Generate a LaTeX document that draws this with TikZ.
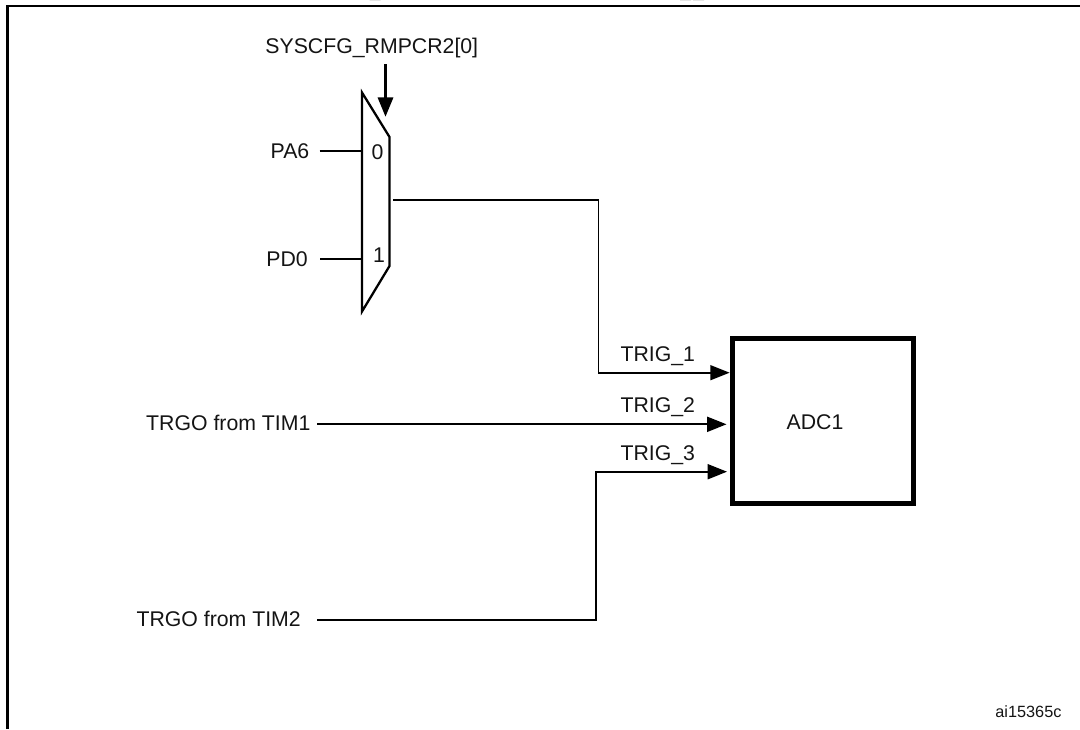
\documentclass[tikz,border=0pt]{standalone}
\usepackage{fontspec}
\setmainfont{Liberation Sans}
\usetikzlibrary{arrows.meta}
\tikzset{
  px/.style={x=0.75pt,y=-0.75pt},
  lbl/.style={inner sep=0pt,font=\fontsize{15.95pt}{18pt}\selectfont,text=black!92},
  smalllbl/.style={inner sep=0pt,font=\fontsize{12.2pt}{14pt}\selectfont,text=black!92},
  wire/.style={line width=1.25pt,draw=black},
  arr/.style={wire,-{Triangle[length=14.5pt,width=11.25pt]}},
  frameline/.style={line width=1.6pt,draw=black},
  muxshape/.style={line width=1.7pt,draw=black,line join=miter},
  adcbox/.style={draw=black,line width=3.7pt,minimum width=135.75pt,minimum height=124.1pt,inner sep=0pt},
}
\begin{document}
\begin{tikzpicture}[px]
\useasboundingbox (0,0) rectangle (1080,729);
% frame
\draw[frameline] (7.5,729) -- (7.5,5.8) -- (1080,5.8);
% clipped title descenders at the top edge
\fill[black!85] (369.5,0) arc[start angle=180,end angle=360,x radius=5.5,y radius=2.2] -- cycle;
\fill[black!85] (680,0) arc[start angle=180,end angle=360,x radius=5.5,y radius=2.2] -- cycle;
\fill[black!85] (693,0) arc[start angle=180,end angle=360,x radius=5.5,y radius=2.2] -- cycle;
% mux
\coordinate (muxTL) at (362,92.5);
\coordinate (muxTR) at (389.5,137);
\coordinate (muxBR) at (389.5,266);
\coordinate (muxBL) at (362,311.5);
\draw[muxshape] (muxTL) -- (muxTR) -- (muxBR) -- (muxBL) -- cycle;
\coordinate (mux0in) at (362,150.7);
\coordinate (mux1in) at (362,259);
\coordinate (muxout) at (393,200);
\coordinate (muxsel) at (385.5,116.7);
% labels
\node[lbl] (sel) at (371.8,47.5) {SYSCFG\_RMPCR2[0]};
\node[lbl] (pa6) at (290,151) {PA6};
\node[lbl] (pd0) at (287,259.5) {PD0};
\node[lbl] (zero) at (377.6,152) {0};
\node[lbl] (one) at (379,255) {1};
\node[lbl,anchor=east] (tim1) at (310.7,423) {TRGO from TIM1};
\node[lbl,anchor=east] (tim2) at (301,619.3) {TRGO from TIM2};
\node[lbl,anchor=west] (t1) at (620.3,356) {TRIG\_1};
\node[lbl,anchor=west] (t2) at (620.3,407) {TRIG\_2};
\node[lbl,anchor=west] (t3) at (620.3,455.5) {TRIG\_3};
\node[smalllbl,anchor=east] (ref) at (1061.7,711.7) {ai15365c};
% ADC
\node[adcbox] (adc) at (822.8,421) {};
\node[lbl] (adclabel) at (815,421.7) {ADC1};
% connectors
\coordinate (t1tip) at (729.6,372.7);
\coordinate (t2tip) at (726.5,424.3);
\coordinate (t3tip) at (727,471.7);
\coordinate (pa6s) at (319.6,150.7);
\coordinate (pd0s) at (320,259);
\coordinate (tim1s) at (317,424.3);
\coordinate (tim2s) at (317,620.3);
\coordinate (sels) at (385.5,64);
\draw[wire] (pa6s) -- (mux0in);
\draw[wire] (pd0s) -- (mux1in);
\draw[arr] (muxout) -| (598.6,372.7) -- (t1tip);
\draw[arr] (tim1s) -- (t2tip);
\draw[arr] (tim2s) -| (596,471.7) -- (t3tip);
\draw[line width=1.7pt,-{Triangle[length=14.5pt,width=11.5pt]}] (sels) -- (muxsel);
\end{tikzpicture}
\end{document}
